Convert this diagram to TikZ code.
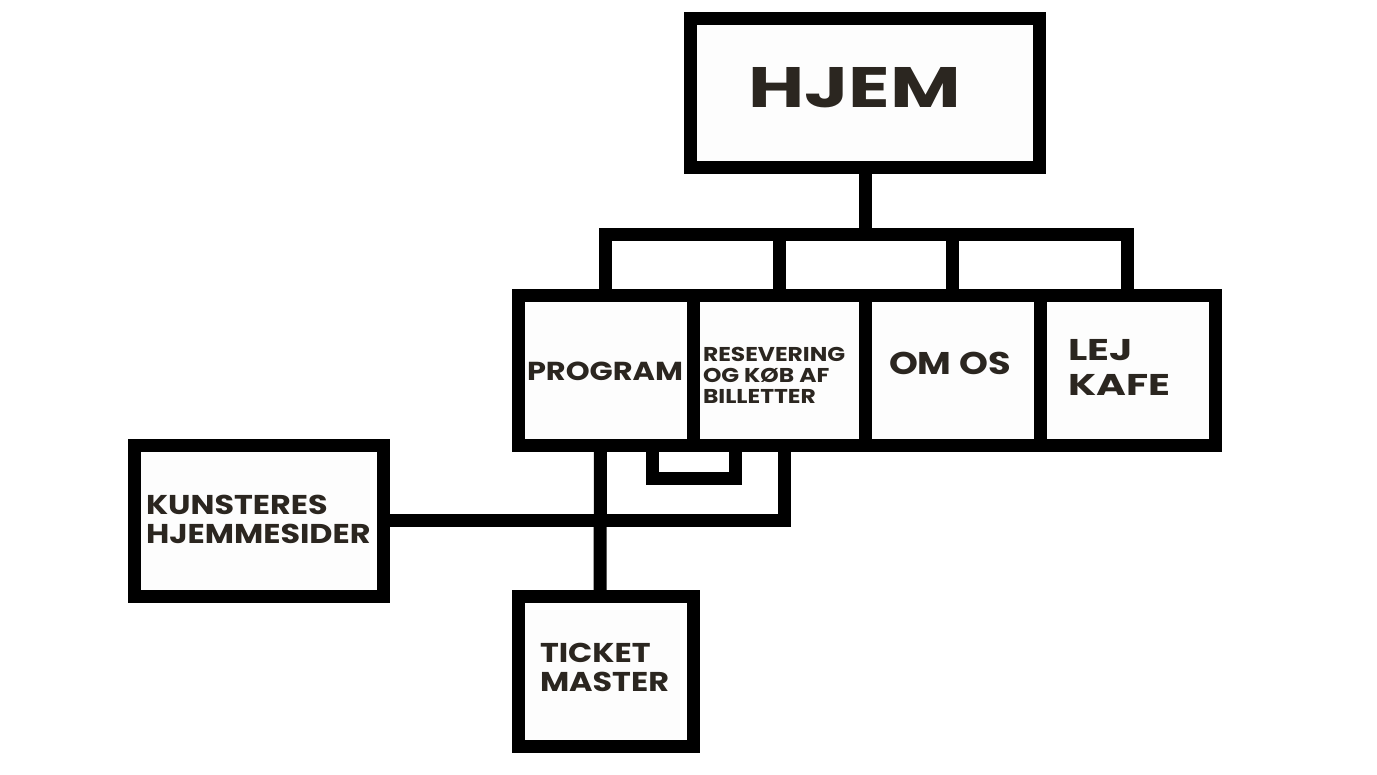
\documentclass[tikz,border=0pt]{standalone}
\usepackage{fontspec}
\setmainfont{Poppins}[FakeStretch=1.17]
\newfontfamily\widefont{Poppins}[FakeStretch=1.35]
\definecolor{sitefill}{HTML}{FDFDFD}
\definecolor{sitetext}{HTML}{2B2620}
\begin{document}
\begin{tikzpicture}[
        x=0.5pt, y=-0.5pt,
        every node/.style={font=\bfseries, text=sitetext},
        box/.style={
          draw=black, line width=6.5pt, fill=sitefill,
          outer sep=0pt, inner sep=0pt,
        },
        link/.style={draw=black, line width=6.5pt},
        lbl/.style={inner sep=0pt, outer sep=0pt, align=left},
      ]
      \useasboundingbox[fill=white] (0,0) rectangle (1377,775);

      % boxes
      \node[box, minimum width=174.5pt, minimum height=74.5pt] (hjem) at (865,93) {};
      \node[box, minimum width=87.5pt, minimum height=74.75pt] (prog) at (605.5,370.75) {};
      \node[box, minimum width=86pt, minimum height=74.75pt] (res) at (779,370.75) {};
      \node[box, minimum width=87.5pt, minimum height=74.75pt] (omos) at (952.5,370.75) {};
      \node[box, minimum width=87.5pt, minimum height=74.75pt] (lej) at (1127.5,370.75) {};
      \node[box, minimum width=124.75pt, minimum height=75.25pt] (kun) at (258.75,520.75) {};
      \node[box, minimum width=87.25pt, minimum height=75pt] (ticket) at (606,671) {};

      % labels
      \node[lbl, anchor=base west, font={\widefont\fontsize{28.5pt}{30pt}\selectfont\bfseries}] (hjemtxt) at (748,108) {HJEM};
      \node[lbl, anchor=base west, font={\fontsize{13pt}{14pt}\selectfont\bfseries}] (progtxt) at (527,380) {PROGRAM};
      \node[lbl, anchor=north west, font={\fontsize{10pt}{10.5pt}\selectfont\bfseries}] (restxt) at (703,347) {RESEVERING\\OG KØB AF\\BILLETTER};
      \node[lbl, anchor=base west, font={\fontsize{15.7pt}{17pt}\selectfont\bfseries}] (omostxt) at (889,375) {OM OS};
      \node[lbl, anchor=north west, font={\widefont\fontsize{15pt}{17.5pt}\selectfont\bfseries}] (lejtxt) at (1068,339) {LEJ\\KAFE};
      \node[lbl, anchor=north west, font={\fontsize{13.6pt}{14.5pt}\selectfont\bfseries}] (kuntxt) at (146,495) {KUNSTERES\\HJEMMESIDER};
      \node[lbl, anchor=north west, font={\fontsize{13.6pt}{14.5pt}\selectfont\bfseries}] (tickettxt) at (540,643) {TICKET\\MASTER};

      % menu tree
      \coordinate (bar) at (865,235);
      \draw[link] (hjem.south) -- (bar);
      \draw[link] (prog.north) |- (bar) -| (lej.north);
      \draw[link] (res.north) -- (res.north |- bar);
      \draw[link] (omos.north) -- (omos.north |- bar);

      % sub pages
      \draw[link] ([xshift=-2.5pt]prog.south) -- ([xshift=-3pt]ticket.north);
      \draw[link] ([xshift=-20.5pt]prog.south east) -- ++(0,32.5) -| ([xshift=21pt]res.south west);
      \draw[link] ([xshift=2.5pt]res.south) |- (kun.east);
    \end{tikzpicture}
\end{document}
